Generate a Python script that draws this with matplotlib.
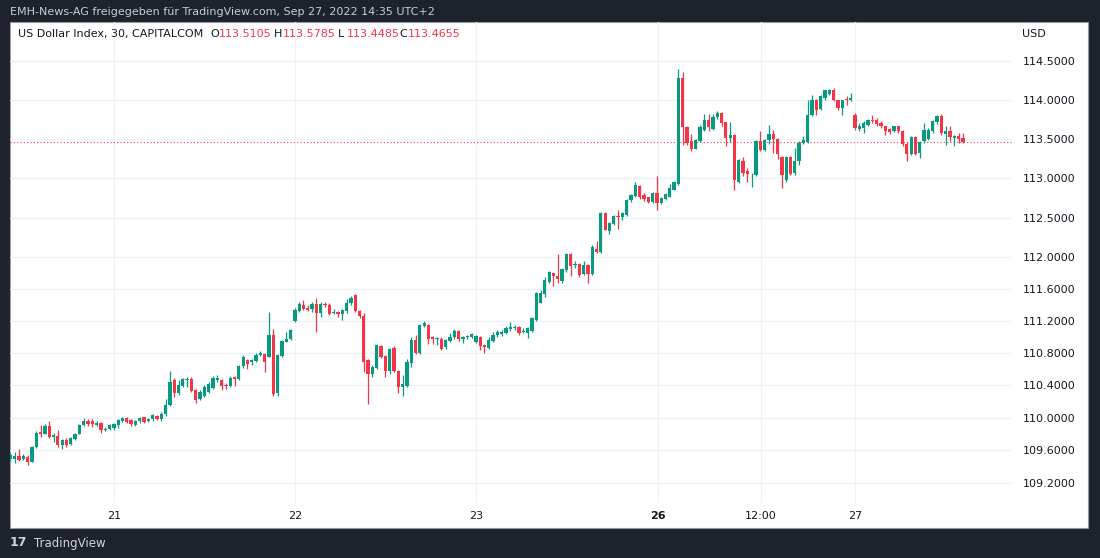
import numpy as np
import matplotlib
matplotlib.use('Agg')
from matplotlib import pyplot as plt
from matplotlib.patches import Rectangle
from matplotlib.ticker import FixedLocator, NullLocator, FormatStrFormatter


# candles, 30 min bars, Sep 20 evening .. Sep 27 14:30

opens = [
  109.494, 109.49, 109.531, 109.49, 109.51, 109.452, 109.636, 109.824, 109.80, 109.90,
  109.762, 109.77, 109.657, 109.724, 109.67, 109.732, 109.80, 109.908, 109.963, 109.954,
  109.908, 109.933, 109.85, 109.854, 109.87, 109.912, 109.963, 109.996, 109.971, 109.912,
  109.954, 110.004, 109.954, 109.979, 110.025, 109.984, 110.046, 110.151, 110.465, 110.30,
  110.39, 110.465, 110.473, 110.34,
  110.231, 110.273, 110.315, 110.369, 110.47, 110.47, 110.398, 110.386, 110.503, 110.474,
  110.637, 110.712, 110.691, 110.704, 110.775, 110.788, 110.754, 111.026, 110.302, 110.763,
  110.943, 110.972, 111.206, 111.332, 111.403, 111.361, 111.349, 111.416, 111.307, 111.416,
  111.403, 111.299, 111.319, 111.286, 111.332, 111.424, 111.529, 111.332, 111.265, 110.712,
  110.537, 110.62,
  110.886, 110.761, 110.576, 110.87, 110.576, 110.375, 110.388, 110.677, 110.962, 110.803,
  111.137, 111.15, 110.995, 110.97, 110.975, 110.878, 110.953, 110.995, 111.079, 110.978,
  110.995, 111.003, 110.941, 110.995, 110.899, 110.87, 110.953, 111.024, 111.037, 111.045,
  111.096, 111.108, 111.129, 111.062, 111.045, 111.079, 111.213, 111.431, 111.539, 111.694,
  111.799, 111.766,
  111.697, 111.834, 112.04, 111.903, 111.92, 111.792, 111.903, 111.792, 112.104, 112.061,
  112.562, 112.331, 112.425, 112.523, 112.511, 112.532, 112.725, 112.776, 112.904, 112.789,
  112.759, 112.703, 112.81, 112.69, 112.733, 112.767, 112.853, 112.93, 114.274, 113.645,
  113.474, 113.375, 113.474, 113.615, 113.743, 113.623, 113.773, 113.829, 113.709, 113.516,
  113.546, 112.957,
  113.213, 113.085, 113.034, 113.043, 113.477, 113.362, 113.481, 113.566, 113.502, 113.268,
  112.979, 113.268, 113.064, 113.213, 113.447, 113.455, 113.809, 113.991, 113.881, 114.021,
  114.077, 114.128, 113.991, 113.894, 114.009, 113.991, 113.809, 113.626, 113.638, 113.681,
  113.745, 113.745, 113.702, 113.66, 113.626, 113.596, 113.66, 113.596, 113.438, 113.311,
  113.523, 113.319, 113.468, 113.498, 113.596, 113.711, 113.787, 113.566, 113.596, 113.511,
  113.532, 113.5105]

highs = [
  109.565, 109.577, 109.607, 109.552, 109.544, 109.649, 109.837, 109.908, 109.921, 109.963,
  109.816, 109.845, 109.732, 109.753, 109.766, 109.816, 109.921, 109.992, 109.984, 109.984,
  109.963, 109.942, 109.879, 109.921, 109.933, 109.984, 110.013, 110.013, 109.984, 109.975,
  110.013, 110.013, 109.992, 110.046, 110.038, 110.067, 110.235, 110.58, 110.486, 110.465,
  110.486, 110.50, 110.50, 110.36,
  110.336, 110.398, 110.44, 110.511, 110.528, 110.482, 110.428, 110.511, 110.511, 110.65,
  110.775, 110.721, 110.721, 110.796, 110.825, 110.804, 111.311, 111.098, 110.788, 110.964,
  111.068, 111.102, 111.361, 111.433, 111.466, 111.403, 111.433, 111.487, 111.433, 111.433,
  111.424, 111.349, 111.332, 111.349, 111.474, 111.508, 111.541, 111.34, 111.299, 110.733,
  110.65, 110.913,
  110.899, 110.773, 110.87, 110.886, 110.593, 110.522, 110.731, 110.995, 111.024, 111.163,
  111.20, 111.163, 111.012, 111.003, 110.995, 110.97, 111.045, 111.096, 111.087, 111.012,
  111.024, 111.045, 111.024, 111.012, 110.92, 111.003, 111.066, 111.087, 111.087, 111.137,
  111.192, 111.15, 111.137, 111.108, 111.121, 111.255, 111.569, 111.59, 111.749, 111.833,
  111.807, 112.042,
  111.869, 112.048, 112.048, 111.954, 111.933, 111.954, 111.911, 112.16, 112.211, 112.575,
  112.575, 112.446, 112.532, 112.596, 112.575, 112.733, 112.802, 112.947, 112.917, 112.81,
  112.767, 112.819, 113.033, 112.767, 112.81, 112.93, 112.96, 114.394, 114.36, 113.666,
  113.559, 113.504, 113.675, 113.816, 113.816, 113.816, 113.859, 113.845, 113.718, 113.709,
  113.559, 113.243,
  113.268, 113.128, 113.064, 113.489, 113.596, 113.498, 113.681, 113.617, 113.511, 113.285,
  113.285, 113.285, 113.383, 113.468, 113.54, 113.991, 114.064, 114.009, 114.064, 114.128,
  114.136, 114.149, 114.0, 114.0, 114.051, 114.085, 113.83, 113.702, 113.723, 113.753,
  113.809, 113.766, 113.723, 113.668, 113.638, 113.668, 113.668, 113.617, 113.455, 113.532,
  113.54, 113.468, 113.702, 113.638, 113.745, 113.809, 113.821, 113.66, 113.66, 113.553,
  113.574, 113.5785]

lows = [
  109.46, 109.439, 109.469, 109.481, 109.418, 109.448, 109.628, 109.762, 109.795, 109.753,
  109.699, 109.636, 109.619, 109.636, 109.657, 109.72, 109.795, 109.90, 109.90, 109.879,
  109.891, 109.816, 109.837, 109.845, 109.845, 109.87, 109.95, 109.937, 109.90, 109.90,
  109.933, 109.937, 109.942, 109.963, 109.971, 109.954, 110.025, 110.143, 110.256, 110.277,
  110.381, 110.381, 110.318, 110.18,
  110.218, 110.252, 110.302, 110.356, 110.44, 110.336, 110.356, 110.377, 110.386, 110.47,
  110.62, 110.608, 110.65, 110.691, 110.763, 110.566, 110.746, 110.273, 110.273, 110.746,
  110.934, 110.964, 111.194, 111.319, 111.34, 111.332, 111.319, 111.068, 111.257, 111.382,
  111.278, 111.286, 111.257, 111.215, 111.299, 111.403, 111.319, 111.236, 110.566, 110.168,
  110.503, 110.608,
  110.744, 110.509, 110.543, 110.564, 110.30, 110.271, 110.375, 110.627, 110.794, 110.794,
  111.121, 110.92, 110.911, 110.899, 110.836, 110.857, 110.941, 110.97, 110.953, 110.928,
  110.978, 110.991, 110.928, 110.844, 110.803, 110.857, 110.941, 111.003, 111.016, 111.033,
  111.079, 111.087, 111.024, 111.045, 110.983, 111.066, 111.204, 111.422, 111.506, 111.673,
  111.64, 111.673,
  111.676, 111.817, 111.762, 111.869, 111.749, 111.783, 111.676, 111.783, 112.048, 112.048,
  112.339, 112.297, 112.404, 112.361, 112.468, 112.519, 112.703, 112.759, 112.733, 112.716,
  112.69, 112.69, 112.596, 112.673, 112.725, 112.759, 112.844, 112.917, 113.418, 113.418,
  113.345, 113.367, 113.461, 113.602, 113.602, 113.615, 113.752, 113.666, 113.409, 113.461,
  112.853, 112.936,
  113.021, 112.957, 112.885, 113.021, 113.34, 113.34, 113.438, 113.319, 113.243, 112.872,
  112.957, 113.043, 113.043, 113.17, 113.438, 113.447, 113.796, 113.809, 113.872, 114.0,
  114.064, 113.979, 113.864, 113.809, 113.936, 113.979, 113.617, 113.596, 113.574, 113.66,
  113.702, 113.66, 113.638, 113.553, 113.566, 113.583, 113.574, 113.404, 113.213, 113.298,
  113.298, 113.255, 113.447, 113.481, 113.574, 113.694, 113.553, 113.426, 113.468, 113.404,
  113.447, 113.4485]

closes = [
  109.536, 109.531, 109.481, 109.523, 109.452, 109.636, 109.816, 109.795, 109.90, 109.762,
  109.783, 109.657, 109.724, 109.661, 109.753, 109.80, 109.908, 109.954, 109.921, 109.921,
  109.929, 109.85, 109.862, 109.912, 109.921, 109.971, 109.996, 109.95, 109.921, 109.954,
  109.996, 109.95, 109.979, 110.034, 109.984, 110.046, 110.151, 110.444, 110.30, 110.40,
  110.473, 110.478, 110.33, 110.214,
  110.315, 110.377, 110.419, 110.495, 110.495, 110.386, 110.386, 110.495, 110.482, 110.637,
  110.754, 110.67, 110.712, 110.775, 110.804, 110.691, 111.026, 110.294, 110.775, 110.951,
  110.972, 111.089, 111.34, 111.416, 111.349, 111.34, 111.416, 111.307, 111.416, 111.403,
  111.29, 111.319, 111.286, 111.34, 111.424, 111.487, 111.332, 111.265, 110.691, 110.545,
  110.629, 110.901,
  110.752, 110.576, 110.857, 110.576, 110.375, 110.417, 110.689, 110.962, 110.803, 111.15,
  111.171, 110.97, 110.97, 110.983, 110.857, 110.962, 111.003, 111.079, 110.97, 110.995,
  111.012, 111.033, 111.012, 110.886, 110.878, 110.962, 111.024, 111.066, 111.062, 111.108,
  111.129, 111.129, 111.045, 111.079, 111.108, 111.234, 111.548, 111.556, 111.715, 111.812,
  111.766, 111.724,
  111.847, 112.04, 111.89, 111.92, 111.783, 111.903, 111.792, 112.125, 112.061, 112.562,
  112.348, 112.434, 112.519, 112.511, 112.553, 112.725, 112.789, 112.917, 112.759, 112.733,
  112.703, 112.81, 112.69, 112.746, 112.797, 112.874, 112.947, 114.274, 113.645, 113.452,
  113.367, 113.486, 113.645, 113.743, 113.645, 113.773, 113.829, 113.70, 113.516, 113.546,
  112.973, 113.226,
  113.064, 113.055, 113.043, 113.477, 113.353, 113.489, 113.566, 113.502, 113.311, 113.043,
  113.268, 113.055, 113.213, 113.447, 113.489, 113.809, 113.991, 113.872, 114.043, 114.119,
  114.128, 114.0, 113.894, 113.991, 113.991, 114.021, 113.638, 113.66, 113.702, 113.745,
  113.723, 113.694, 113.66, 113.596, 113.583, 113.66, 113.596, 113.438, 113.311, 113.523,
  113.311, 113.455, 113.617, 113.617, 113.723, 113.787, 113.574, 113.596, 113.523, 113.54,
  113.498, 113.4655]

# time axis labels, at bar index positions
time_tick_pos = [24.0, 66.0, 108.0, 150.2, 174.1, 196.0]
time_tick_labels = ['21', '22', '23', '26', '12:00', '27']

price_ticks = [109.2, 109.6, 110.0, 110.4, 110.8, 111.2, 111.6, 112.0, 112.5, 113.0, 113.5, 114.0, 114.5]

last_price = 113.4655
header_ohlc = [('O', '113.5105'), ('H', '113.5785'), ('L', '113.4485'), ('C', '113.4655')]


UP = '#089981'
DOWN = '#f23645'
FRAME = '#1e222d'
GRID = '#eef1f7'
TXT = '#131722'

W, H = 1100, 558

def fx(px):
  return px / W

def fy(py):
  return 1 - py / H


fig = plt.figure(figsize=(11, 5.58), dpi=100, facecolor=FRAME)

# white chart panel, drawn under the axes
fig.patches.append(Rectangle((fx(10), fy(528)), fx(1078), 506 / H, transform=fig.transFigure,
                             facecolor='white', edgecolor='#9598a1', linewidth=0.8, zorder=-5))

ax = fig.add_axes([fx(10), fy(503), fx(1002), 481 / H])
ax.set_zorder(2)
ax.set_facecolor('none')
for s in ax.spines.values():
  s.set_visible(False)

ax.set_yscale('log')
ax.set_ylim(108.95, 115.0)
ax.set_xlim(-0.1, 232.4)

o = np.array(opens)
c = np.array(closes)
hi = np.array(highs)
lo = np.array(lows)
idx = np.arange(len(o))
colors = np.where(c >= o, UP, DOWN)

ax.vlines(idx, lo, hi, colors=colors, linewidth=0.9, zorder=3)
body_bottom = np.minimum(o, c)
body_h = np.maximum(np.abs(c - o), 0.012)
ax.bar(idx, body_h, bottom=body_bottom, width=0.76, color=colors, linewidth=0, zorder=4)

ax.axhline(last_price, color=DOWN, linestyle=(0, (1, 2)), linewidth=0.8, zorder=2)

# axes, grid
ax.yaxis.set_major_locator(FixedLocator(price_ticks))
ax.yaxis.set_minor_locator(NullLocator())
ax.yaxis.set_major_formatter(FormatStrFormatter('%.4f'))
ax.yaxis.tick_right()
ax.tick_params(axis='y', length=0, pad=8, labelsize=8, labelcolor=TXT)

ax.set_xticks(time_tick_pos)
ax.set_xticklabels(time_tick_labels)
ax.tick_params(axis='x', length=0, pad=6, labelsize=8, labelcolor=TXT)
ax.get_xticklabels()[3].set_fontweight('bold')

ax.grid(True, color=GRID, linewidth=0.9, zorder=0)
ax.set_axisbelow(True)

# texts
fig.text(fx(10), fy(12), 'EMH-News-AG freigegeben für TradingView.com, Sep 27, 2022 14:35 UTC+2',
         color='#c9ccd3', fontsize=8, va='center', ha='left')

fig.text(fx(18), fy(34), 'US Dollar Index, 30, CAPITALCOM', color=TXT, fontsize=8, va='center')
for (k, v), xp in zip(header_ohlc, [210, 274, 338, 399]):
  fig.text(fx(xp), fy(34), k, color=TXT, fontsize=8, va='center')
  fig.text(fx(xp + 9), fy(34), v, color=DOWN, fontsize=8, va='center')

fig.text(fx(1022), fy(34), 'USD', color=TXT, fontsize=8, va='center')

fig.text(fx(10), fy(543), '17', color='#d1d4dc', fontsize=9, fontweight='heavy', va='center')
fig.text(fx(34), fy(543), 'TradingView', color='#d1d4dc', fontsize=8.5, va='center')

plt.savefig('out.png', dpi=100, facecolor=FRAME)
